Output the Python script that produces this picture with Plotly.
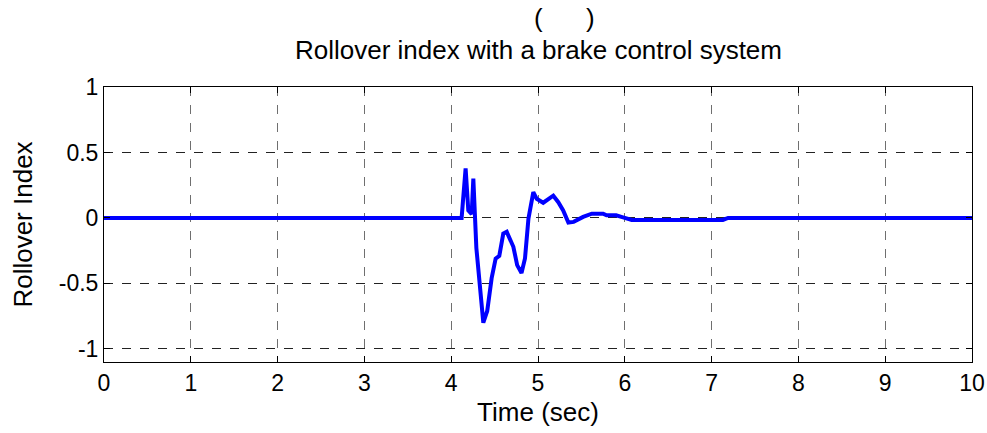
import plotly.graph_objects as go

# Rollover index time history (sec, index)
time_sec = [0.0, 4.12, 4.166, 4.197, 4.236, 4.255, 4.29, 4.33, 4.37, 4.415, 4.466,
            4.512, 4.554, 4.6, 4.64, 4.716, 4.76, 4.81, 4.85, 4.89, 4.946, 4.985,
            5.06, 5.176, 5.234, 5.29, 5.35, 5.41, 5.52, 5.62, 5.75, 5.79, 5.9,
            5.98, 6.08, 7.13, 7.19, 10.0]
rollover_index = [0.0, 0.0, 0.379, 0.058, 0.03, 0.30, -0.23, -0.51, -0.80, -0.71, -0.46,
                  -0.31, -0.29, -0.12, -0.106, -0.22, -0.36, -0.42, -0.31, -0.005, 0.197, 0.146,
                  0.116, 0.17, 0.12, 0.058, -0.035, -0.03, 0.008, 0.033, 0.033, 0.02, 0.02,
                  0.005, -0.015, -0.015, 0.0, 0.0]

x_ticks = [0, 1, 2, 3, 4, 5, 6, 7, 8, 9, 10]
y_ticks = [-1, -0.5, 0, 0.5, 1]
y_tick_text = ["-1", "-0.5", "0", "0.5", "1"]

FONT = "Liberation Sans, Arial, sans-serif"
TICK_SIZE = 23
LABEL_SIZE = 26
TITLE_SIZE = 26

fig = go.Figure()
fig.add_trace(go.Scatter(x=time_sec, y=rollover_index, mode="lines",
                         line=dict(color="#0000ff", width=4), showlegend=False))

axis_common = dict(showline=True, linecolor="black", linewidth=1, mirror="ticks",
                   ticks="inside", ticklen=6, tickcolor="black", zeroline=False,
                   showgrid=True, griddash="dash", gridwidth=1,
                   tickfont=dict(family=FONT, size=TICK_SIZE, color="black"))

fig.update_xaxes(range=[0, 10], tickvals=x_ticks, gridcolor="#6f6f6f",
                 title=dict(text="Time (sec)", font=dict(family=FONT, size=LABEL_SIZE, color="black"),
                            standoff=8),
                 **axis_common)
fig.update_yaxes(range=[-1.1, 1], tickvals=y_ticks, ticktext=y_tick_text, gridcolor="#222222",
                 title=dict(text="Rollover Index", font=dict(family=FONT, size=LABEL_SIZE, color="black"),
                            standoff=18),
                 **axis_common)

fig.add_annotation(text="(" + "\u00a0" * 6 + ")", xref="paper", yref="paper",
                   x=0.531, y=1.0, yshift=69, yanchor="middle", showarrow=False,
                   font=dict(family=FONT, size=TITLE_SIZE, color="black"))
fig.add_annotation(text="Rollover index with a brake control system", xref="paper", yref="paper",
                   x=0.5, y=1.0, yshift=37, yanchor="middle", showarrow=False,
                   font=dict(family=FONT, size=TITLE_SIZE, color="black"))

fig.update_layout(width=987, height=433, margin=dict(l=104, r=15, t=87, b=71, autoexpand=False),
                  paper_bgcolor="white", plot_bgcolor="white",
                  font=dict(family=FONT, size=TICK_SIZE, color="black"))

fig.write_html("out.html")
